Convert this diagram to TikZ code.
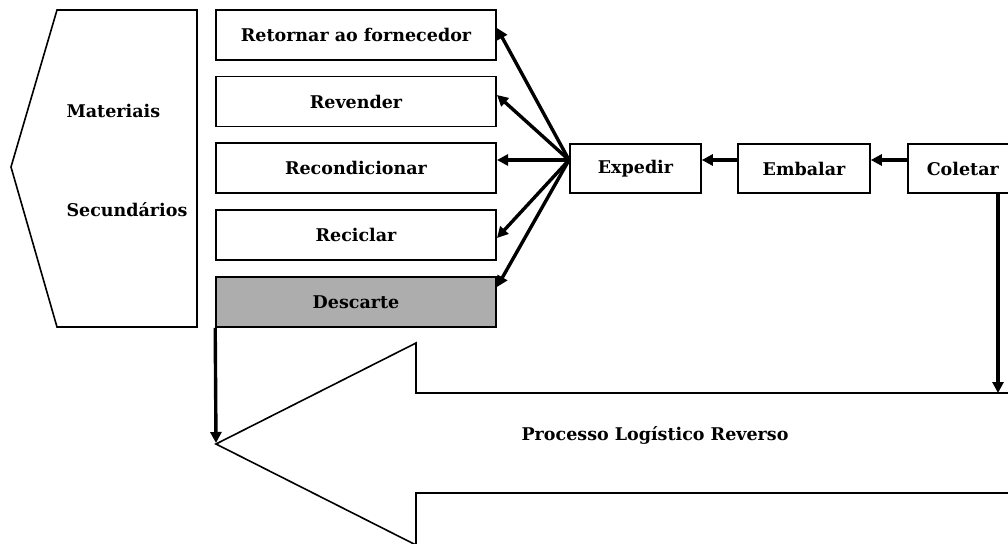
\documentclass[tikz,border=0pt]{standalone}
\usepackage{fontspec}
\setmainfont{DejaVu Serif}
\usetikzlibrary{arrows.meta}
\begin{document}
\begin{tikzpicture}[x=1pt,y=-1pt,
  tfont/.style={font=\bfseries\fontsize{17.5}{20}\selectfont},
  box/.style={draw=black,line width=1.6pt,minimum width=280pt,minimum height=50pt,inner sep=0pt,tfont},
  sbox/.style={draw=black,line width=1.6pt,minimum height=49pt,inner sep=0pt,tfont},
  arr/.style={line width=3.4pt,-{Triangle[length=11pt,width=11pt]}},
  lbl/.style={tfont}]
\useasboundingbox (0,0) rectangle (1008,543);
% left pentagon
\draw[line width=1.6pt] (57,10) -- (197,10) -- (197,327) -- (57,327) -- (11,167) -- cycle;
\node[lbl,anchor=west] (mat) at (63,111) {Materiais};
\node[lbl,anchor=west] (sec) at (63,210) {Secundários};
% boxes
\node[box] (b1) at (356,35) {Retornar ao fornecedor};
\node[box] (b2) at (356,101.5) {Revender};
\node[box] (b3) at (356,168) {Recondicionar};
\node[box] (b4) at (356,235) {Reciclar};
\node[box,fill=black!32] (b5) at (356,302) {Descarte};
\node[sbox,minimum width=131pt] (exp) at (635.5,168.5) {Expedir};
\node[sbox,minimum width=132pt] (emb) at (804,168.5) {Embalar};
\node[sbox,minimum width=110pt,anchor=west] (col) at (907,168.5) {Coletar};
% big arrow
\draw[line width=1.6pt,fill=white] (1010,393) -- (416,393) -- (416,343) -- (216,444) -- (416,545) -- (416,493) -- (1010,493);
\node[lbl] (proc) at (655,435) {Processo Logístico Reverso};
% connectors
\coordinate (o) at (569,160);
\draw[arr] (o) -- (497,28);
\draw[arr] (o) -- (497,95);
\draw[arr] (o) -- (497,160);
\draw[arr] (o) -- (497,238);
\draw[arr] (o) -- (497,287);
\draw[arr] (emb.west |- 0,160) -- (exp.east |- 0,160);
\draw[arr] (col.west |- 0,160) -- (emb.east |- 0,160);
\coordinate (cb) at (998,393);
\draw[arr] (998,193) -- (cb);
\coordinate (tip) at (216,443);
\draw[arr] (b5.south west) -- (tip);
\end{tikzpicture}
\end{document}
